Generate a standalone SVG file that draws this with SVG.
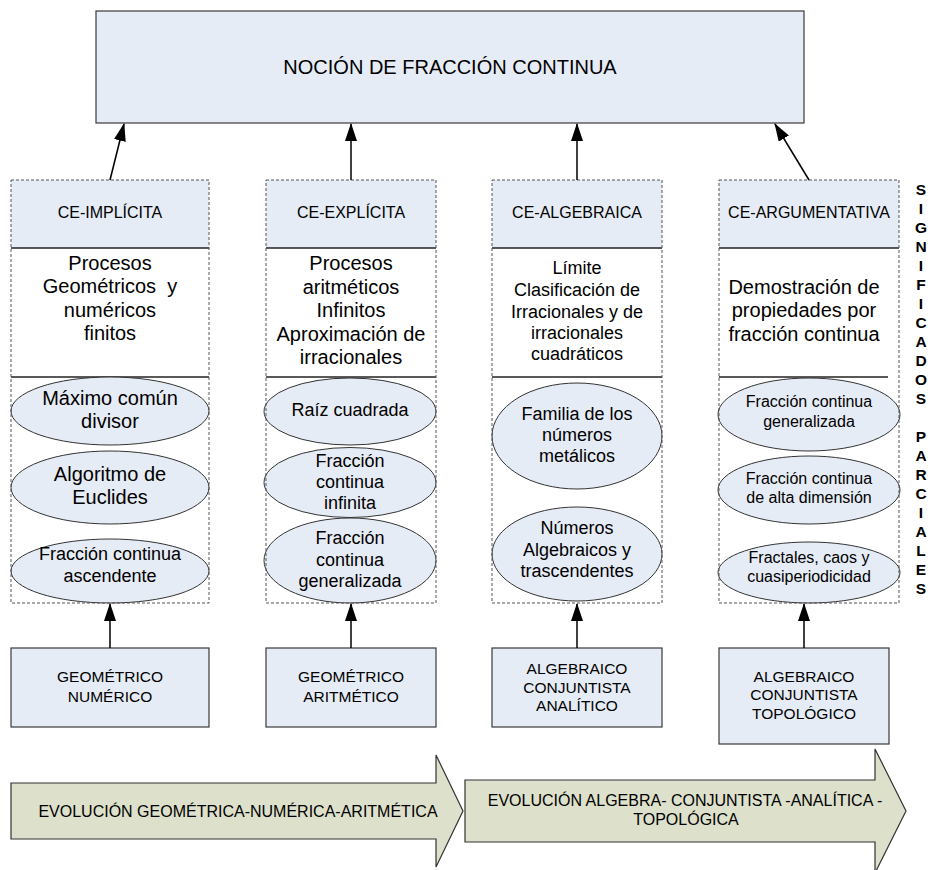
<svg xmlns="http://www.w3.org/2000/svg" width="930" height="870" viewBox="0 0 930 870">
  <defs>
    <marker id="head" markerUnits="userSpaceOnUse" markerWidth="18" markerHeight="12" refX="17" refY="6" orient="auto">
      <path d="M0,0 L18,6 L0,12 Z" fill="#000"/>
    </marker>
    <style>
      text { font-family: "Liberation Sans", Arial, sans-serif; fill: #000; text-anchor: middle; }
      .title { font-size: 20px; }
      .hdr { font-size: 16px; }
      .b20 { font-size: 20px; }
      .b18 { font-size: 18px; }
      .b16 { font-size: 16px; }
      .cap { font-size: 15.5px; }
      .side { font-size: 15.5px; font-weight: bold; }
      .box { fill: #e6ecf6; stroke: #3a3a3a; stroke-width: 1.2; }
      .hfill { fill: #e6ecf6; stroke: none; }
      .frame { fill: none; stroke: #555; stroke-width: 1; stroke-dasharray: 3 2; }
      .rule { stroke: #222; stroke-width: 1.5; }
      .oval { fill: #e6ecf6; stroke: #333; stroke-width: 1; }
      .band { fill: #dde0cb; stroke: #333; stroke-width: 1.2; }
      .link { stroke: #000; stroke-width: 1.5; fill: none; marker-end: url(#head); }
    </style>
  </defs>

  <rect width="930" height="870" fill="#fff"/>

  <!-- central notion -->
  <g id="nocion">
    <rect class="box" x="96" y="11" width="708" height="112"/>
    <text class="title" x="450" y="74">NOCIÓN DE FRACCIÓN CONTINUA</text>
  </g>

  <!-- column: implicit -->
  <g id="ce-implicita">
    <rect class="hfill" x="11" y="180" width="198" height="68"/>
    <line class="rule" x1="11" y1="248" x2="209" y2="248"/>
    <text class="hdr" x="110" y="218">CE-IMPLÍCITA</text>
    <text class="b20" x="110" y="270">Procesos</text>
    <text class="b20" x="110" y="293" xml:space="preserve">Geométricos  y</text>
    <text class="b20" x="110" y="317">numéricos</text>
    <text class="b20" x="110" y="340">finitos</text>
    <line class="rule" x1="11" y1="377" x2="209" y2="377"/>
    <g id="mcd">
      <ellipse class="oval" cx="110" cy="411" rx="99" ry="34"/>
      <text class="b20" x="110" y="405">Máximo común</text>
      <text class="b20" x="110" y="428">divisor</text>
    </g>
    <g id="euclides">
      <ellipse class="oval" cx="110" cy="487.5" rx="99" ry="36.5"/>
      <text class="b20" x="110" y="481">Algoritmo de</text>
      <text class="b20" x="110" y="504">Euclides</text>
    </g>
    <g id="fc-ascendente">
      <ellipse class="oval" cx="110" cy="571" rx="99" ry="32"/>
      <text class="b18" x="110" y="560">Fracción continua</text>
      <text class="b18" x="110" y="582">ascendente</text>
    </g>
    <rect class="frame" x="11" y="180" width="198" height="423"/>
  </g>

  <!-- column: explicit -->
  <g id="ce-explicita">
    <rect class="hfill" x="266" y="180" width="170" height="68"/>
    <line class="rule" x1="266" y1="248" x2="436" y2="248"/>
    <text class="hdr" x="351" y="218">CE-EXPLÍCITA</text>
    <text class="b20" x="351" y="270">Procesos</text>
    <text class="b20" x="351" y="294">aritméticos</text>
    <text class="b20" x="351" y="317">Infinitos</text>
    <text class="b20" x="351" y="341">Aproximación de</text>
    <text class="b20" x="351" y="364">irracionales</text>
    <line class="rule" x1="266" y1="377" x2="436" y2="377"/>
    <g id="raiz">
      <ellipse class="oval" cx="350" cy="411.5" rx="86" ry="33.5"/>
      <text class="b18" x="350" y="416">Raíz cuadrada</text>
    </g>
    <g id="fc-infinita">
      <ellipse class="oval" cx="350" cy="482.5" rx="86" ry="35"/>
      <text class="b18" x="350" y="467">Fracción</text>
      <text class="b18" x="350" y="488">continua</text>
      <text class="b18" x="350" y="509">infinita</text>
    </g>
    <g id="fc-generalizada-1">
      <ellipse class="oval" cx="350" cy="560.5" rx="86" ry="42.5"/>
      <text class="b18" x="350" y="544">Fracción</text>
      <text class="b18" x="350" y="566">continua</text>
      <text class="b18" x="350" y="587">generalizada</text>
    </g>
    <rect class="frame" x="266" y="180" width="170" height="423"/>
  </g>

  <!-- column: algebraic -->
  <g id="ce-algebraica">
    <rect class="hfill" x="492" y="180" width="170" height="68"/>
    <line class="rule" x1="492" y1="248" x2="662" y2="248"/>
    <text class="hdr" x="577" y="218">CE-ALGEBRAICA</text>
    <text class="b18" x="577" y="274">Límite</text>
    <text class="b18" x="577" y="296">Clasificación de</text>
    <text class="b18" x="577" y="318">Irracionales y de</text>
    <text class="b18" x="577" y="339">irracionales</text>
    <text class="b18" x="577" y="360">cuadráticos</text>
    <line class="rule" x1="492" y1="377" x2="662" y2="377"/>
    <g id="metalicos">
      <ellipse class="oval" cx="577" cy="436" rx="85" ry="53"/>
      <text class="b18" x="577" y="420">Familia de los</text>
      <text class="b18" x="577" y="441">números</text>
      <text class="b18" x="577" y="462">metálicos</text>
    </g>
    <g id="algebraicos">
      <ellipse class="oval" cx="577" cy="554" rx="85" ry="47"/>
      <text class="b18" x="577" y="534">Números</text>
      <text class="b18" x="577" y="556">Algebraicos y</text>
      <text class="b18" x="577" y="577">trascendentes</text>
    </g>
    <rect class="frame" x="492" y="180" width="170" height="423"/>
  </g>

  <!-- column: argumentative -->
  <g id="ce-argumentativa">
    <rect class="hfill" x="719" y="180" width="180" height="68"/>
    <line class="rule" x1="719" y1="248" x2="899" y2="248"/>
    <text class="hdr" x="809" y="218">CE-ARGUMENTATIVA</text>
    <text class="b20" x="804" y="294">Demostración de</text>
    <text class="b20" x="804" y="317">propiedades por</text>
    <text class="b20" x="804" y="341">fracción continua</text>
    <line class="rule" x1="719" y1="377" x2="888" y2="377"/>
    <g id="fc-generalizada-2">
      <ellipse class="oval" cx="809" cy="414.5" rx="91" ry="36.5"/>
      <text class="b16" x="809" y="407">Fracción continua</text>
      <text class="b16" x="809" y="427">generalizada</text>
    </g>
    <g id="fc-alta-dimension">
      <ellipse class="oval" cx="809" cy="490" rx="91" ry="34"/>
      <text class="b16" x="809" y="484">Fracción continua</text>
      <text class="b16" x="809" y="503">de alta dimensión</text>
    </g>
    <g id="fractales">
      <ellipse class="oval" cx="809" cy="572.5" rx="91" ry="30.5"/>
      <text class="b16" x="809" y="563">Fractales, caos y</text>
      <text class="b16" x="809" y="582">cuasiperiodicidad</text>
    </g>
    <rect class="frame" x="719" y="180" width="180" height="423"/>
  </g>

  <!-- vertical side label -->
  <g id="significados">
    <text class="side" x="921" y="195">S</text>
    <text class="side" x="921" y="214">I</text>
    <text class="side" x="921" y="233">G</text>
    <text class="side" x="921" y="252">N</text>
    <text class="side" x="921" y="271">I</text>
    <text class="side" x="921" y="290">F</text>
    <text class="side" x="921" y="309">I</text>
    <text class="side" x="921" y="328">C</text>
    <text class="side" x="921" y="347">A</text>
    <text class="side" x="921" y="366">D</text>
    <text class="side" x="921" y="385">O</text>
    <text class="side" x="921" y="404">S</text>
    <text class="side" x="921" y="442">P</text>
    <text class="side" x="921" y="461">A</text>
    <text class="side" x="921" y="480">R</text>
    <text class="side" x="921" y="499">C</text>
    <text class="side" x="921" y="518">I</text>
    <text class="side" x="921" y="537">A</text>
    <text class="side" x="921" y="556">L</text>
    <text class="side" x="921" y="575">E</text>
    <text class="side" x="921" y="594">S</text>
  </g>

  <!-- bottom source boxes -->
  <g id="geometrico-numerico">
    <rect class="box" x="11" y="648" width="198" height="79"/>
    <text class="cap" x="110" y="682">GEOMÉTRICO</text>
    <text class="cap" x="110" y="702">NUMÉRICO</text>
  </g>
  <g id="geometrico-aritmetico">
    <rect class="box" x="266" y="648" width="170" height="79"/>
    <text class="cap" x="351" y="682">GEOMÉTRICO</text>
    <text class="cap" x="351" y="702">ARITMÉTICO</text>
  </g>
  <g id="algebraico-analitico">
    <rect class="box" x="492" y="648" width="170" height="79"/>
    <text class="cap" x="577" y="674">ALGEBRAICO</text>
    <text class="cap" x="577" y="692.5">CONJUNTISTA</text>
    <text class="cap" x="577" y="711">ANALÍTICO</text>
  </g>
  <g id="algebraico-topologico">
    <rect class="box" x="719" y="648" width="170" height="96"/>
    <text class="cap" x="804" y="682">ALGEBRAICO</text>
    <text class="cap" x="804" y="700">CONJUNTISTA</text>
    <text class="cap" x="804" y="719">TOPOLÓGICO</text>
  </g>

  <!-- evolution bands -->
  <g id="evolucion-1">
    <polygon class="band" points="11,783 436,783 436,755 463,811 436,867 436,839 11,839"/>
    <text class="b16" x="238" y="817">EVOLUCIÓN GEOMÉTRICA-NUMÉRICA-ARITMÉTICA</text>
  </g>
  <g id="evolucion-2">
    <polygon class="band" points="465,780 875,780 875,749 906,811 875,873 875,842 465,842"/>
    <text class="b16" x="685" y="806">EVOLUCIÓN ALGEBRA- CONJUNTISTA -ANALÍTICA -</text>
    <text class="b16" x="686" y="825">TOPOLÓGICA</text>
  </g>

  <!-- connectors -->
  <g id="connectors">
    <line class="link" x1="110" y1="180" x2="124" y2="124"/>
    <line class="link" x1="351" y1="180" x2="351" y2="124"/>
    <line class="link" x1="577" y1="180" x2="577" y2="124"/>
    <line class="link" x1="809" y1="180" x2="775" y2="124"/>
    <line class="link" x1="110" y1="648" x2="110" y2="604"/>
    <line class="link" x1="351" y1="648" x2="351" y2="604"/>
    <line class="link" x1="577" y1="648" x2="577" y2="604"/>
    <line class="link" x1="804" y1="648" x2="804" y2="604"/>
  </g>
</svg>
